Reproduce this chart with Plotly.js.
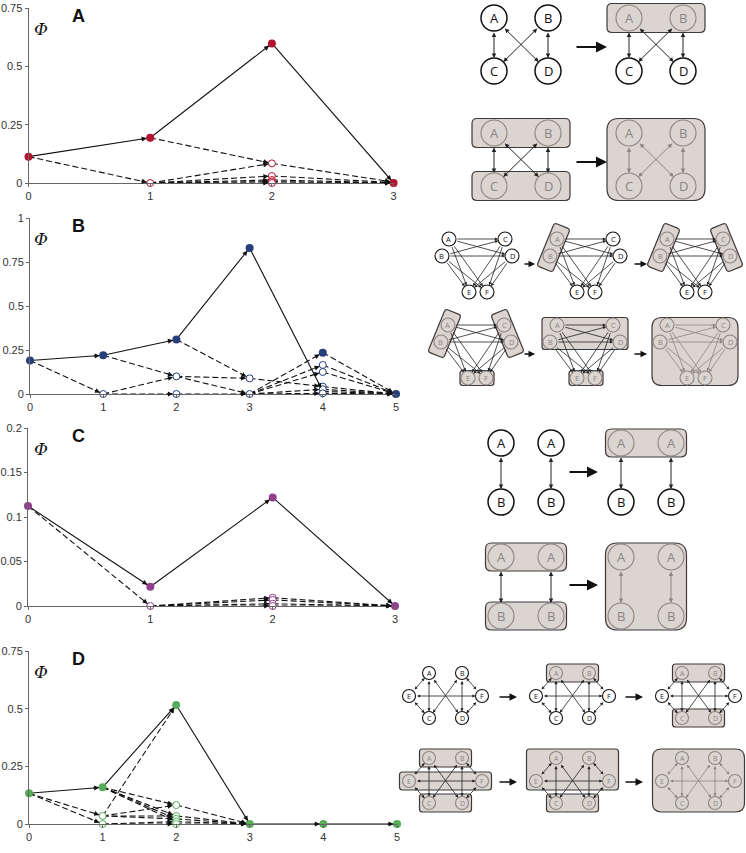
<!DOCTYPE html>
<html><head><meta charset="utf-8">
<script src="https://cdn.plot.ly/plotly-3.0.1.min.js"></script>
<style>html,body{margin:0;padding:0;background:#fff}</style>
</head><body><div id="chart" style="width:746px;height:853px"></div>
<script>
// ================= DATA =================
// Panel A
const A_xTicks=[0,1,2,3];
const A_yTicks=[0,0.25,0.5,0.75];
const A_filledX=[0,1,2,3];
const A_filledY=[0.113,0.194,0.598,0];
const A_openX=[1,2,2,2,2,2];
const A_openY=[0,0.084,0.03,0.013,0.006,0];
const A_solid=[[0,0.113,1,0.194],[1,0.194,2,0.598],[2,0.598,3,0]];
const A_dashed=[[0,0.113,1,0],[1,0.194,2,0.084],[1,0,2,0.084],[1,0,2,0.03],[1,0,2,0.013],[1,0,2,0.006],[1,0,2,0],
  [2,0.084,3,0.004],[2,0.03,3,0.002],[2,0.013,3,0.001],[2,0.006,3,0],[2,0,3,0]];
// Panel B
const B_xTicks=[0,1,2,3,4,5];
const B_yTicks=[0,0.25,0.5,0.75,1];
const B_filledX=[0,1,2,3,4,5];
const B_filledY=[0.19,0.22,0.31,0.83,0.235,0];
const B_openX=[1,2,2,3,3,4,4,4,4,4];
const B_openY=[0,0.1,0,0.089,0,0.165,0.125,0.042,0.027,0.004];
const B_solid=[[0,0.19,1,0.22],[1,0.22,2,0.31],[2,0.31,3,0.83],[3,0.83,4,0.015]];
const B_dashed=[[0,0.19,1,0],[1,0.22,2,0.1],[1,0,2,0.1],[1,0,2,0],[2,0.31,3,0.089],[2,0.1,3,0.089],[2,0.1,3,0],[2,0,3,0],
  [3,0.089,4,0.042],[3,0,4,0.235],[3,0,4,0.165],[3,0,4,0.125],[3,0,4,0.027],[3,0,4,0.004],
  [4,0.235,5,0],[4,0.165,5,0],[4,0.125,5,0],[4,0.042,5,0],[4,0.027,5,0],[4,0.015,5,0],[4,0.004,5,0]];
// Panel C
const C_xTicks=[0,1,2,3];
const C_yTicks=[0,0.05,0.1,0.15,0.2];
const C_filledX=[0,1,2,3];
const C_filledY=[0.1124,0.0217,0.122,0];
const C_openX=[1,2,2,2,2];
const C_openY=[0,0.0093,0.0068,0.0025,0];
const C_solid=[[0,0.1124,1,0.0217],[1,0.0217,2,0.122],[2,0.122,3,0]];
const C_dashed=[[0,0.1124,1,0],[1,0,2,0.0093],[1,0,2,0.0068],[1,0,2,0.0025],[1,0,2,0],
  [2,0.0093,3,0],[2,0.0068,3,0],[2,0.0025,3,0],[2,0,3,0]];
// Panel D
const D_xTicks=[0,1,2,3,4,5];
const D_yTicks=[0,0.25,0.5,0.75];
const D_filledX=[0,1,2,3,4,5];
const D_filledY=[0.133,0.159,0.516,0,0,0];
const D_openX=[1,1,2,2,2,2,2];
const D_openY=[0.035,0,0.082,0.035,0.022,0.01,0];
const D_solid=[[0,0.133,1,0.159],[1,0.159,2,0.516],[2,0.516,3,0],[3,0,4,0],[4,0,5,0]];
const D_dashed=[[0,0.133,1,0.035],[0,0.133,1,0],[1,0.035,2,0.516],[1,0.159,2,0.082],[1,0.159,2,0.035],[1,0.159,2,0.022],[1,0.159,2,0.01],
  [1,0.035,2,0.082],[1,0.035,2,0.035],[1,0.035,2,0.022],[1,0,2,0.01],[1,0,2,0],
  [2,0.082,3,0],[2,0.035,3,0],[2,0.022,3,0],[2,0.01,3,0],[2,0,3,0]];
const panelLetters=['A','B','C','D'];
const yLabel='Φ';

// ================= LAYOUT / STYLE =================
const W=746,H=853;
const colors=['#b5122f','#263f7a','#913f8e','#56ad5a'];
const geo=[{x0:28.5,x1:393.6,yT:8,yB:183},{x0:30,x1:396,yT:218,yB:394},{x0:28,x1:395,yT:428,yB:606},{x0:29,x1:397,yT:651,yB:824}];
const panels=[
 {f:[A_filledX,A_filledY],o:[A_openX,A_openY],s:A_solid,d:A_dashed,xt:A_xTicks,yt:A_yTicks},
 {f:[B_filledX,B_filledY],o:[B_openX,B_openY],s:B_solid,d:B_dashed,xt:B_xTicks,yt:B_yTicks},
 {f:[C_filledX,C_filledY],o:[C_openX,C_openY],s:C_solid,d:C_dashed,xt:C_xTicks,yt:C_yTicks},
 {f:[D_filledX,D_filledY],o:[D_openX,D_openY],s:D_solid,d:D_dashed,xt:D_xTicks,yt:D_yTicks}
];
const FONT='Liberation Sans, Arial, sans-serif';
const traces=[],annots=[],shapes=[];
const layout={width:W,height:H,margin:{l:0,r:0,t:0,b:0},paper_bgcolor:'#fff',plot_bgcolor:'rgba(0,0,0,0)',showlegend:false};
const axisCommon={showline:true,linecolor:'#666',linewidth:1,ticks:'outside',ticklen:3,tickcolor:'#666',showgrid:false,zeroline:false,
  tickfont:{family:FONT,size:11,color:'#333'},fixedrange:true};

panels.forEach((p,i)=>{
  const sx=i===0?'':String(i+1);
  const xa='x'+sx, ya='y'+sx;
  const g=geo[i];
  const xr=[p.xt[0],p.xt[p.xt.length-1]], yr=[p.yt[0],p.yt[p.yt.length-1]];
  const kx=(g.x1-g.x0)/(xr[1]-xr[0]), ky=(g.yB-g.yT)/(yr[1]-yr[0]);
  layout['xaxis'+sx]=Object.assign({},axisCommon,{domain:[g.x0/W,g.x1/W],range:xr,tickvals:p.xt,anchor:ya});
  layout['yaxis'+sx]=Object.assign({},axisCommon,{domain:[1-g.yB/H,1-g.yT/H],range:yr,tickvals:p.yt,anchor:xa});
  const segTrace=(segs,dash)=>{const X=[],Y=[];segs.forEach(s=>{X.push(s[0],s[2],null);Y.push(s[1],s[3],null);});
    return {x:X,y:Y,xaxis:xa,yaxis:ya,mode:'lines',line:{color:'#111',width:1.1,dash:dash},hoverinfo:'skip',cliponaxis:false};};
  traces.push(segTrace(p.d,'6px,3px'));
  traces.push(segTrace(p.s,'solid'));
  traces.push({x:p.o[0],y:p.o[1],xaxis:xa,yaxis:ya,mode:'markers',cliponaxis:false,hoverinfo:'skip',
    marker:{size:7,color:'#fff',line:{color:colors[i],width:1}}});
  traces.push({x:p.f[0],y:p.f[1],xaxis:xa,yaxis:ya,mode:'markers',cliponaxis:false,hoverinfo:'skip',
    marker:{size:8,color:colors[i],line:{width:0}}});
  p.s.concat(p.d).forEach(s=>{
    const dx=(s[2]-s[0])*kx, dy=-(s[3]-s[1])*ky; const L=Math.hypot(dx,dy); const len=11;
    annots.push({xref:xa,yref:ya,x:s[2],y:s[3],axref:'pixel',ayref:'pixel',ax:-dx/L*len,ay:-dy/L*len,showarrow:true,text:'',
      arrowhead:2,arrowsize:1,arrowwidth:1,arrowcolor:'#111',standoff:3.5});
  });
  annots.push({xref:'paper',yref:'paper',x:78/W,y:1-(g.yT+8)/H,xanchor:'center',yanchor:'middle',text:'<b>'+panelLetters[i]+'</b>',showarrow:false,
    font:{family:FONT,size:18,color:'#111'}});
  annots.push({xref:'paper',yref:'paper',x:41/W,y:1-(g.yT+21)/H,xanchor:'center',yanchor:'middle',text:'<i>'+yLabel+'</i>',showarrow:false,
    font:{family:'DejaVu Serif, serif',size:17,color:'#111'}});
});

// ================= NETWORK DIAGRAMS (illustration) =================
const px=x=>x/W, py=y=>1-y/H;
const P=(x,y)=>px(x).toFixed(5)+','+py(y).toFixed(5);
function roundedPoly(pts,r){
  let d='';const n=pts.length;
  for(let i=0;i<n;i++){
    const p=pts[i],a=pts[(i-1+n)%n],b=pts[(i+1)%n];
    const la=Math.hypot(a[0]-p[0],a[1]-p[1]),lb=Math.hypot(b[0]-p[0],b[1]-p[1]);
    const rr=Math.min(r,la/2,lb/2);
    const s=[p[0]+(a[0]-p[0])/la*rr,p[1]+(a[1]-p[1])/la*rr],e=[p[0]+(b[0]-p[0])/lb*rr,p[1]+(b[1]-p[1])/lb*rr];
    d+=(i===0?'M':'L')+P(s[0],s[1])+' Q'+P(p[0],p[1])+' '+P(e[0],e[1])+' ';
  }
  return d+'Z';
}
const BOXFILL='#dbd5d2',BOXLINE='#3f3a38',GRAY='#8c8482';
function addBox(pts,r){shapes.push({type:'path',xref:'paper',yref:'paper',path:roundedPoly(pts,r),fillcolor:BOXFILL,line:{color:BOXLINE,width:1.2}});}
function arrowAnn(x0,y0,x1,y1,o){
  annots.push(Object.assign({xref:'paper',yref:'paper',x:px(x1),y:py(y1),axref:'pixel',ayref:'pixel',ax:x0-x1,ay:y0-y1,
    showarrow:true,text:'',arrowhead:2,arrowsize:1,arrowwidth:1,arrowcolor:'#111',standoff:0},o||{}));
}
function drawDiagram(t,o,boxes,grayEdges){
  const pos={};Object.keys(t.nodes).forEach(k=>{pos[k]=[o[0]+t.nodes[k][0],o[1]+t.nodes[k][1]];});
  const gray=new Set();
  boxes.forEach(b=>{
    b.n.forEach(k=>gray.add(k));
    const pts=b.n.map(k=>pos[k]);
    if(b.tilt){
      const p1=pts[0],p2=pts[1];const L=Math.hypot(p2[0]-p1[0],p2[1]-p1[1]);
      const u=[(p2[0]-p1[0])/L,(p2[1]-p1[1])/L],nn=[-u[1],u[0]];const e=t.tiltExt,h=t.tiltHw;
      addBox([[p1[0]-u[0]*e+nn[0]*h,p1[1]-u[1]*e+nn[1]*h],[p2[0]+u[0]*e+nn[0]*h,p2[1]+u[1]*e+nn[1]*h],
              [p2[0]+u[0]*e-nn[0]*h,p2[1]+u[1]*e-nn[1]*h],[p1[0]-u[0]*e-nn[0]*h,p1[1]-u[1]*e-nn[1]*h]],3);
    } else {
      const xs=pts.map(q=>q[0]),ys=pts.map(q=>q[1]);
      const x0=Math.min(...xs)-t.pad[0],x1=Math.max(...xs)+t.pad[0],y0=Math.min(...ys)-t.pad[1],y1=Math.max(...ys)+t.pad[1];
      addBox([[x0,y0],[x1,y0],[x1,y1],[x0,y1]],b.big?t.rb:t.rs);
    }
  });
  Object.keys(pos).forEach(k=>{
    const c=pos[k],r=t.r,g=gray.has(k);
    shapes.push({type:'circle',xref:'paper',yref:'paper',x0:px(c[0]-r),x1:px(c[0]+r),y0:py(c[1]+r),y1:py(c[1]-r),
      fillcolor:g?'rgba(0,0,0,0)':'#fff',line:{color:g?GRAY:'#111',width:g?1.1:t.lw}});
    annots.push({xref:'paper',yref:'paper',x:px(c[0]),y:py(c[1]),xanchor:'center',yanchor:'middle',text:t.label?t.label(k):k,showarrow:false,
      font:{family:'Open Sans, Liberation Sans, sans-serif',size:t.font,color:g?GRAY:'#111'}});
  });
  t.edges.forEach(e=>{
    const a=pos[e[0]],b=pos[e[1]];
    arrowAnn(a[0],a[1],b[0],b[1],{arrowcolor:grayEdges?GRAY:'#222',arrowwidth:t.ew,arrowsize:t.as,standoff:t.r,startstandoff:t.r,
      arrowside:e[2]===2?'end+start':'end',startarrowhead:2,startarrowsize:t.as});
  });
}
const tplA={r:13,font:13,lw:1.5,ew:1,as:0.9,pad:[22,14.5],rs:5,rb:12,
  nodes:{A:[0,0],B:[54,0],C:[0,53],D:[54,53]},edges:[['A','C',2],['B','D',2],['A','D',2],['B','C',2]]};
drawDiagram(tplA,[494,18],[],false);
drawDiagram(tplA,[629,18],[{n:['A','B']}],false);
drawDiagram(tplA,[494,133],[{n:['A','B']},{n:['C','D']}],false);
drawDiagram(tplA,[629,133],[{n:['A','B','C','D'],big:true}],true);
[[575,47,607,47],[575,162,607,162]].forEach(a=>arrowAnn(a[0],a[1],a[2],a[3],{arrowwidth:2.2,arrowsize:1}));

const tplB={r:7,font:7.5,lw:1.1,ew:0.8,as:0.8,pad:[8,7.5],rs:3,rb:10,tiltExt:14,tiltHw:8.5,
  nodes:{A:[0,0],C:[56,0],B:[-7,17],D:[63,17],E:[20,53],F:[38,53]},
  edges:[['A','C',1],['B','D',1],['A','D',1],['B','C',1],['A','E',1],['A','F',1],['B','E',1],['B','F',1],['C','E',1],['C','F',1],['D','E',1],['D','F',1]]};
drawDiagram(tplB,[449,239],[],false);
drawDiagram(tplB,[557,239],[{n:['A','B'],tilt:true}],false);
drawDiagram(tplB,[667,239],[{n:['A','B'],tilt:true},{n:['C','D'],tilt:true}],false);
drawDiagram(tplB,[448,325],[{n:['A','B'],tilt:true},{n:['C','D'],tilt:true},{n:['E','F']}],false);
drawDiagram(tplB,[557,325],[{n:['A','B','C','D']},{n:['E','F']}],false);
drawDiagram(tplB,[667,325],[{n:['A','B','C','D','E','F'],big:true}],true);
[[523,264,535,264],[633,264,647,264],[523,354,535,354],[633,354,647,354]].forEach(a=>arrowAnn(a[0],a[1],a[2],a[3],{arrowwidth:1.3,arrowsize:1}));

const tplC={r:13,font:13,lw:1.5,ew:1,as:0.9,pad:[15.5,14],rs:6,rb:12,label:k=>k[0],
  nodes:{A1:[0,0],A2:[50,0],B1:[0,59],B2:[50,59]},edges:[['A1','B1',2],['A2','B2',2]]};
drawDiagram(tplC,[501,443],[],false);
drawDiagram(tplC,[621,443],[{n:['A1','A2']}],false);
drawDiagram(tplC,[501,557],[{n:['A1','A2']},{n:['B1','B2']}],false);
drawDiagram(tplC,[621,557],[{n:['A1','A2','B1','B2'],big:true}],true);
[[568,472,598,472],[568,585,598,585]].forEach(a=>arrowAnn(a[0],a[1],a[2],a[3],{arrowwidth:2.2,arrowsize:1}));

const tplD={r:6.5,font:7,lw:1.1,ew:0.8,as:0.8,pad:[9.5,9],rs:3,rb:9,
  nodes:{A:[0,0],B:[33,0],E:[-20,23],F:[53,23],C:[0,45],D:[33,45]},
  edges:[['A','C',2],['B','D',2],['A','D',2],['B','C',2],['E','A',2],['E','C',2],['F','B',2],['F','D',2],['E','F',2]]};
drawDiagram(tplD,[429,673],[],false);
drawDiagram(tplD,[556,673],[{n:['A','B']}],false);
drawDiagram(tplD,[682,673],[{n:['A','B']},{n:['C','D']}],false);
drawDiagram(tplD,[429,758],[{n:['A','B']},{n:['E','F']},{n:['C','D']}],false);
drawDiagram(tplD,[556,758],[{n:['A','B','E','F']},{n:['C','D']}],false);
drawDiagram(tplD,[682,758],[{n:['A','B','C','D','E','F'],big:true}],true);
[[498,697,517,697],[624,697,643,697],[498,782,517,782],[624,782,643,782]].forEach(a=>arrowAnn(a[0],a[1],a[2],a[3],{arrowwidth:1.5,arrowsize:1}));

layout.annotations=annots;
layout.shapes=shapes;
Plotly.newPlot('chart',traces,layout,{staticPlot:true,displayModeBar:false});
</script></body></html>
